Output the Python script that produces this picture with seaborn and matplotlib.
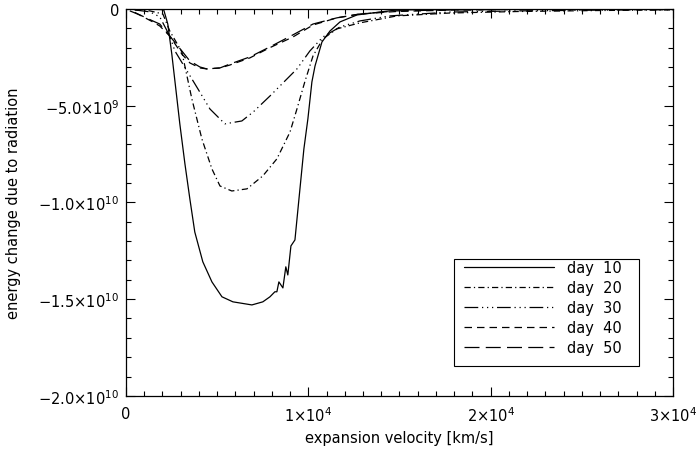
import numpy as np
import pandas as pd
import matplotlib
matplotlib.use("Agg")
import matplotlib.pyplot as plt
import seaborn as sns
from matplotlib.ticker import MultipleLocator
from matplotlib.patches import Rectangle

# values (velocity in km/s, energy change)
vel_d10 = [490, 1320, 1860, 2080, 2300, 2520, 2740, 2960, 3240, 3510, 3780, 4220, 4720,
           5270, 5870, 6910, 7510, 7900, 8170, 8280, 8390, 8610, 8770, 8880, 9050, 9270,
           9490, 9760, 9980, 10200, 10370, 10750, 11190, 11740, 12670, 14860, 17770,
           21600, 26000, 30000]
e_d10 = [-2e7, -2e7, -3e7, -5e7, -7.8e8, -2.33e9, -4.13e9, -5.94e9, -8.01e9, -9.82e9,
         -1.153e10, -1.307e10, -1.411e10, -1.488e10, -1.514e10, -1.530e10, -1.514e10,
         -1.488e10, -1.462e10, -1.462e10, -1.411e10, -1.442e10, -1.333e10, -1.375e10,
         -1.225e10, -1.194e10, -9.82e9, -7.24e9, -5.68e9, -3.77e9, -2.95e9, -1.71e9,
         -1.14e9, -6.7e8, -3.1e8, -5e7, -3e7, -2e7, -1e7, -1e7]

vel_d20 = [490, 1320, 2030, 2410, 3070, 3620, 4170, 4720, 5160, 5810, 6640, 7510, 8280,
           9000, 9380, 9810, 10260, 10800, 11570, 12830, 14860, 17770, 21600, 26000, 30000]
e_d20 = [-5e7, -1e8, -2.6e8, -1.14e9, -2.22e9, -4.65e9, -6.72e9, -8.27e9, -9.15e9,
         -9.41e9, -9.30e9, -8.63e9, -7.75e9, -6.36e9, -5.17e9, -3.77e9, -2.43e9, -1.55e9,
         -1.03e9, -7.2e8, -3.6e8, -2.1e8, -1.3e8, -8e7, -5e7]

vel_d30 = [490, 1320, 1860, 2410, 2690, 3950, 4610, 5430, 6360, 6990, 7900, 8830, 9380,
           10090, 10800, 11740, 12830, 14470, 17770, 21600, 26000, 30000]
e_d30 = [-5e7, -1.5e8, -4.1e8, -1.4e9, -2.17e9, -4.13e9, -5.17e9, -5.94e9, -5.79e9,
         -5.32e9, -4.50e9, -3.62e9, -3.10e9, -2.17e9, -1.45e9, -9.3e8, -6.2e8, -3.6e8,
         -1.6e8, -1e8, -6e7, -4e7]

vel_d40 = [490, 1480, 1860, 2410, 3070, 3510, 4060, 4440, 5160, 5700, 6800, 7900, 9160,
           10260, 11570, 12830, 14860, 17770, 21600, 26000, 30000]
e_d40 = [-1.8e8, -6.7e8, -8.8e8, -1.40e9, -2.33e9, -2.79e9, -3.05e9, -3.10e9, -3.05e9,
         -2.90e9, -2.53e9, -2.0e9, -1.45e9, -8.3e8, -4.6e8, -2.6e8, -1.3e8, -6e7, -3e7,
         -2e7, -1e7]

vel_d50 = [220, 770, 1480, 1860, 2410, 3070, 3510, 4060, 4440, 5160, 5700, 6800, 7900,
           9160, 10260, 11570, 12830, 14860, 17770, 21600, 26000, 30000]
e_d50 = [-1e8, -3.1e8, -6.2e8, -7.8e8, -1.40e9, -2.17e9, -2.69e9, -3.00e9, -3.10e9,
         -3.05e9, -2.85e9, -2.48e9, -1.96e9, -1.34e9, -7.8e8, -4.6e8, -2.6e8, -1e8,
         -5e7, -2e7, -1e7, -1e7]

labels = ["day  10", "day  20", "day  30", "day  40", "day  50"]
series = [(vel_d10, e_d10), (vel_d20, e_d20), (vel_d30, e_d30),
          (vel_d40, e_d40), (vel_d50, e_d50)]
styles = ["-", (0, (5, 2.5, 1, 2.5)), (0, (11, 3, 1, 3, 1, 3, 1, 3)),
          (0, (6, 4)), (0, (12, 5))]

x_ticks = [0, 1e4, 2e4, 3e4]
x_labels = ["0", r"$1{\times}10^{4}$", r"$2{\times}10^{4}$", r"$3{\times}10^{4}$"]
y_ticks = [0, -5e9, -1e10, -1.5e10, -2e10]
y_labels = ["0", r"$-5.0{\times}10^{9}$", r"$-1.0{\times}10^{10}$",
            r"$-1.5{\times}10^{10}$", r"$-2.0{\times}10^{10}$"]

sns.set_style("ticks")
plt.rcParams["font.family"] = ["DejaVu Sans"]
plt.rcParams["mathtext.default"] = "regular"
plt.rcParams["text.color"] = "black"
plt.rcParams["axes.labelcolor"] = "black"

fig = plt.figure(figsize=(6.99, 4.52), dpi=100)
ax = fig.add_axes([0.180, 0.122, 0.783, 0.856])

for (v, e), lab, ls in zip(series, labels, styles):
    df = pd.DataFrame({"v": v, "e": e})
    sns.lineplot(data=df, x="v", y="e", ax=ax, color="black", lw=0.9,
                 linestyle=ls, label=lab)

ax.set_xlim(0, 3e4)
ax.set_ylim(-2e10, 0)
ax.set_xticks(x_ticks)
ax.set_xticklabels(x_labels)
ax.set_yticks(y_ticks)
ax.set_yticklabels(y_labels)
ax.xaxis.set_minor_locator(MultipleLocator(1000))
ax.yaxis.set_minor_locator(MultipleLocator(1e9))
ax.tick_params(which="both", direction="in", top=True, right=True,
               colors="black", labelsize=10.5, width=0.8)
ax.tick_params(which="major", length=6.5)
ax.tick_params(which="minor", length=3.5)
ax.tick_params(axis="x", pad=7)
ax.tick_params(axis="y", pad=5)
for sp in ax.spines.values():
    sp.set_linewidth(0.9)
    sp.set_color("black")

ax.set_xlabel("expansion velocity [km/s]", fontsize=10.5)
ax.set_ylabel("energy change due to radiation", fontsize=10.5)
ax.xaxis.set_label_coords(0.5, -0.088)
ax.yaxis.set_label_coords(-0.192, 0.5)

# legend without its own frame, box drawn separately so the padding matches
leg = ax.legend(loc="lower left", bbox_to_anchor=(0.617, 0.105), fontsize=10.5,
                handlelength=6.2, handletextpad=0.9, labelspacing=0.35,
                borderpad=0.0, borderaxespad=0.0, frameon=False)
ax.add_patch(Rectangle((0.600, 0.078), 0.338, 0.277, transform=ax.transAxes,
                       fill=False, edgecolor="black", lw=0.8, zorder=5))

fig.savefig("out.png", dpi=100)
